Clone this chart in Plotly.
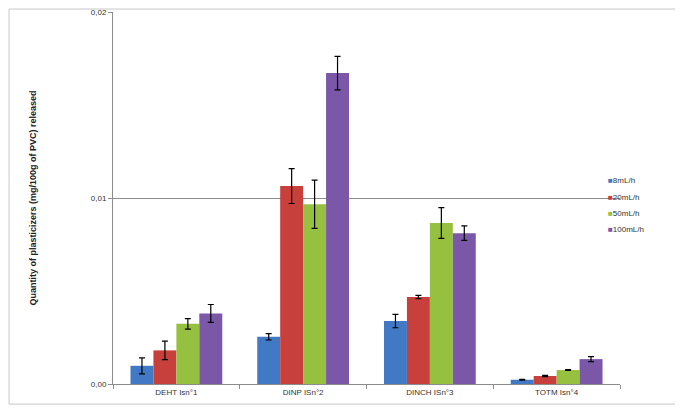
import plotly.graph_objects as go

categories = ["DEHT Isn°1", "DINP ISn°2", "DINCH ISn°3", "TOTM Isn°4"]
series_names = ["8mL/h", "20mL/h", "50mL/h", "100mL/h"]
values = [
    [0.00098, 0.00254, 0.00339, 0.00023],
    [0.00181, 0.01066, 0.00468, 0.00043],
    [0.00324, 0.00968, 0.00867, 0.00075],
    [0.00380, 0.01674, 0.00812, 0.00134],
]
errors = [
    [0.00043, 0.00017, 0.00036, 0.00002],
    [0.00050, 0.00094, 0.00009, 0.00003],
    [0.00028, 0.00130, 0.00083, 0.00002],
    [0.00048, 0.00090, 0.00039, 0.00013],
]
colors = ["#4279c4", "#c8403c", "#96c040", "#7b57a8"]

fig = go.Figure()
for name, vals, errs, color in zip(series_names, values, errors, colors):
    fig.add_trace(
        go.Bar(
            x=categories,
            y=vals,
            name=name,
            marker={"color": color, "line": {"width": 0}},
            error_y={"type": "data", "array": errs, "color": "black", "thickness": 1.2, "width": 3},
        )
    )

# légende compacte façon Excel (petits carrés), en annotations
legend_annots = []
for i, (name, color) in enumerate(zip(series_names, colors)):
    legend_annots.append(
        {
            "xref": "paper",
            "yref": "paper",
            "x": 0.972,
            "y": 0.546 - i * 0.044,
            "xanchor": "left",
            "yanchor": "middle",
            "showarrow": False,
            "align": "left",
            "text": f"<span style='color:{color};font-size:8px'>■</span>{name}",
            "font": {"size": 8, "color": "#333333"},
        }
    )

# la page html ajoute 8px de marge : on réduit la figure d'autant
fig.update_layout(
    width=675,
    height=403,
    separators=", ",
    barmode="group",
    bargap=0.276,
    bargroupgap=0,
    plot_bgcolor="white",
    paper_bgcolor="white",
    font={"family": "Liberation Sans, Arial, sans-serif", "size": 8, "color": "#333333"},
    margin={"l": 105, "r": 63, "t": 4, "b": 27},
    showlegend=False,
    annotations=legend_annots,
    shapes=[
        {
            "type": "rect",
            "xref": "paper",
            "yref": "paper",
            "x0": -0.205,
            "x1": 1.118,
            "y0": -0.054,
            "y1": 1.008,
            "line": {"color": "#c8c8c8", "width": 1},
        }
    ],
)
fig.update_xaxes(
    showline=True,
    linecolor="#8c8c8c",
    ticks="outside",
    tickson="boundaries",
    ticklen=4,
    tickcolor="#8c8c8c",
    showgrid=False,
)
fig.update_yaxes(
    range=[0, 0.02003],
    tickvals=[0, 0.01, 0.02],
    tickformat=".2f",
    showline=True,
    linecolor="#8c8c8c",
    ticks="outside",
    ticklen=4,
    tickcolor="#8c8c8c",
    showgrid=True,
    gridcolor="#8c8c8c",
    gridwidth=1,
    zeroline=False,
    automargin=False,
    title={
        "text": "<b>Quantity of plasticizers (mg/100g of PVC) released</b>",
        "font": {"size": 9, "color": "#222222"},
        "standoff": 52,
    },
)

fig.write_html("out.html")
